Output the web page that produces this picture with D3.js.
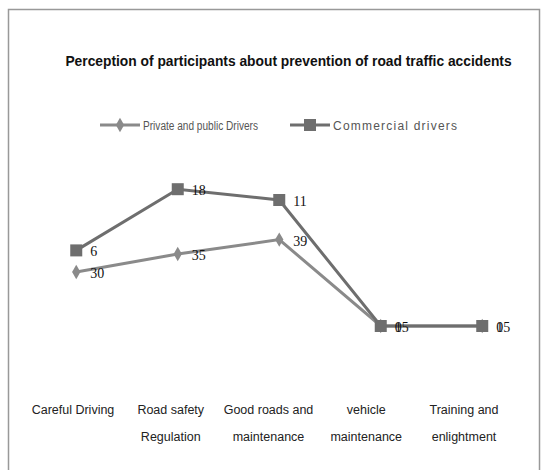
<!DOCTYPE html>
<html>
<head>
<meta charset="utf-8">
<script src="https://cdn.jsdelivr.net/npm/d3@7"></script>
<style>
  body { margin: 0; background: #fff; }
  svg { display: block; }
</style>
</head>
<body>
<div id="chart"></div>
<script>
const categories = ["Careful Driving", "Road safety Regulation", "Good roads and maintenance", "vehicle maintenance", "Training and enlightment"];
const catLines = [["Careful Driving"], ["Road safety", "Regulation"], ["Good roads and", "maintenance"], ["vehicle", "maintenance"], ["Training and", "enlightment"]];
const privateDrivers = [30, 35, 39, 15, 15];
const commercialDrivers = [6, 18, 11, 0, 0];
const seriesNames = ["Private and public Drivers", "Commercial drivers"];

let width = 543, height = 470;

const svg = d3.select("#chart").append("svg")
  .attr("width", width).attr("height", height);

// outer frame (bottom runs off the picture)
svg.append("rect")
  .attr("x", 8.5).attr("y", 9.5)
  .attr("width", 531).attr("height", 470)
  .attr("fill", "none").attr("stroke", "#999").attr("stroke-width", 1.5);

svg.append("text")
  .attr("x", 288.5).attr("y", 66)
  .attr("text-anchor", "middle")
  .attr("font-family", "Liberation Sans, Arial")
  .attr("font-size", 13.8).attr("font-weight", "bold")
  .attr("fill", "#111")
  .text("Perception of participants about prevention of road traffic accidents");

let x = d3.scaleBand()
  .domain(categories)
  .range([25.5, 533]);

// category labels sit slightly left of the points, as in the original
let xl = d3.scalePoint()
  .domain(categories)
  .range([73, 464]);

// stacked lines: commercial sits on top of private
let y = d3.scaleLinear()
  .domain([0, 60])
  .range([380, 164]);

let data = categories.map((c, i) => ({
  cat: c,
  p: privateDrivers[i],
  c: commercialDrivers[i],
  top: privateDrivers[i] + commercialDrivers[i]
}));

let cx = d => x(d.cat) + x.bandwidth() / 2;

// x labels
let labels = svg.append("g")
  .attr("font-family", "Liberation Sans, Arial")
  .attr("font-size", 12.5).attr("fill", "#222")
  .attr("text-anchor", "middle");
categories.forEach((c, i) => {
  let t = labels.append("text").attr("x", xl(c)).attr("y", 414);
  catLines[i].forEach((l, j) => {
    t.append("tspan").attr("x", xl(c)).attr("dy", j ? 27 : 0).text(l);
  });
});

let linePriv = d3.line().x(cx).y(d => y(d.p));
let lineComm = d3.line().x(cx).y(d => y(d.top));

const privColor = "#8a8a8a", commColor = "#6e6e6e";

svg.append("path").datum(data)
  .attr("fill", "none").attr("stroke", privColor).attr("stroke-width", 3)
  .attr("d", linePriv);
svg.append("path").datum(data)
  .attr("fill", "none").attr("stroke", commColor).attr("stroke-width", 3)
  .attr("d", lineComm);

let diamond = d3.symbol().type(d3.symbolDiamond).size(60);

svg.selectAll(".pm").data(data).join("path")
  .attr("transform", d => `translate(${cx(d)},${y(d.p)})`)
  .attr("d", diamond).attr("fill", privColor);

svg.selectAll(".cm").data(data).join("rect")
  .attr("x", d => cx(d) - 6).attr("y", d => y(d.top) - 6)
  .attr("width", 12).attr("height", 12)
  .attr("fill", commColor);

// data labels
let lab = svg.append("g")
  .attr("font-family", "Liberation Serif, Times New Roman, serif")
  .attr("font-size", 14).attr("fill", "#111");
lab.selectAll(".pl").data(data).join("text")
  .attr("x", d => cx(d) + 14).attr("y", d => y(d.p) + 6)
  .text(d => d.p);
lab.selectAll(".cl").data(data).join("text")
  .attr("x", d => cx(d) + 14).attr("y", d => y(d.top) + 6)
  .text(d => d.c);

// legend
let leg = svg.append("g")
  .attr("font-family", "Liberation Sans, Arial")
  .attr("font-size", 12).attr("fill", "#555");
[[100, privColor, seriesNames[0], "d", 115, "spacingAndGlyphs"], [290, commColor, seriesNames[1], "s", 124, "spacing"]].forEach(([lx, col, name, m, tl, adj]) => {
  leg.append("line").attr("x1", lx).attr("x2", lx + 40)
    .attr("y1", 125).attr("y2", 125)
    .attr("stroke", col).attr("stroke-width", 3);
  if (m === "d") {
    leg.append("path").attr("transform", `translate(${lx + 20},125)`)
      .attr("d", diamond).attr("fill", col);
  } else {
    leg.append("rect").attr("x", lx + 14).attr("y", 119)
      .attr("width", 12).attr("height", 12).attr("fill", col);
  }
  leg.append("text").attr("x", lx + 43).attr("y", 129.5)
    .attr("textLength", tl).attr("lengthAdjust", adj)
    .text(name);
});
</script>
</body>
</html>
